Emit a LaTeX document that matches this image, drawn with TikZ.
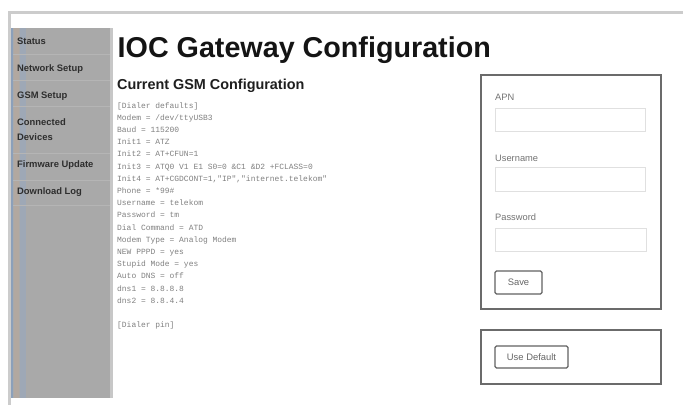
\documentclass[tikz,border=0pt]{standalone}
\usepackage{fontspec}
\setmainfont{Liberation Sans}
\setmonofont{Liberation Mono}
\definecolor{sidegray}{RGB}{169,169,169}
\definecolor{stripa}{RGB}{140,160,186}
\definecolor{stripb}{RGB}{178,168,160}
\definecolor{stripc}{RGB}{158,168,182}
\begin{document}
\begin{tikzpicture}[x=1pt,y=-1pt,
  navitem/.style={anchor=base west,inner sep=0pt,font=\bfseries\fontsize{9.4}{15}\selectfont,text=black!82},
  sepline/.style={draw=black!29,line width=0.6pt},
  monoline/.style={anchor=base west,inner sep=0pt,font=\ttfamily\fontsize{7.95}{12}\selectfont,text=black!50},
  formlabel/.style={anchor=base west,inner sep=0pt,font=\fontsize{9.3}{11}\selectfont,text=black!55},
  inputbox/.style={draw=black!12,line width=0.8pt,fill=white},
  panel/.style={draw=black!58,line width=1.2pt},
  btn/.style={draw=black!62,line width=1.2pt,rounded corners=1.5pt,fill=white,font=\fontsize{9.4}{11}\selectfont,text=black!60,inner sep=0pt}
]
\useasboundingbox (0,0) rectangle (683,405);
\fill[white] (0,0) rectangle (683,405);
% outer frame
\fill[black!20] (8,11) rectangle (683,13.5);
\fill[black!20] (8,11) rectangle (10.5,405);
% sidebar
\fill[sidegray] (10.5,28) rectangle (110,398);
\fill[black!22] (110,28) rectangle (113,398);
\fill[stripa] (10.5,28) rectangle (13,398);
\fill[stripb] (14,28) rectangle (19,398);
\fill[stripc] (20,28) rectangle (26,398);
\foreach \yy in {54,80,106.5,153,180,205}
  \draw[sepline] (13,\yy) -- (110,\yy);
\node[navitem] (nstatus) at (17,44) {Status};
\node[navitem] (nnet) at (17,71) {Network Setup};
\node[navitem] (ngsm) at (17,98) {GSM Setup};
\node[navitem] (ncon) at (17,125) {Connected};
\node[navitem] (ndev) at (17,140) {Devices};
\node[navitem] (nfw) at (17,167) {Firmware Update};
\node[navitem] (ndl) at (17,194) {Download Log};
% headings
\node[anchor=base west,inner sep=0pt,font=\bfseries\fontsize{28.7}{30}\selectfont,text=black!92] (title) at (117.5,57) {IOC Gateway Configuration};
\node[anchor=base west,inner sep=0pt,font=\bfseries\fontsize{14.4}{16}\selectfont,text=black!88] (sub) at (117,89) {Current GSM Configuration};
% config text
\node[monoline] (m1) at (117,108) {[Dialer defaults]};
\node[monoline] (m2) at (117,120.2) {Modem = /dev/ttyUSB3};
\node[monoline] (m3) at (117,132.4) {Baud = 115200};
\node[monoline] (m4) at (117,144.6) {Init1 = ATZ};
\node[monoline] (m5) at (117,156.8) {Init2 = AT+CFUN=1};
\node[monoline] (m6) at (117,169.0) {Init3 = ATQ0 V1 E1 S0=0 \&C1 \&D2 +FCLASS=0};
\node[monoline] (m7) at (117,181.2) {Init4 = AT+CGDCONT=1,"IP","internet.telekom"};
\node[monoline] (m8) at (117,193.4) {Phone = *99\#};
\node[monoline] (m9) at (117,205.6) {Username = telekom};
\node[monoline] (m10) at (117,217.8) {Password = tm};
\node[monoline] (m11) at (117,230.0) {Dial Command = ATD};
\node[monoline] (m12) at (117,242.2) {Modem Type = Analog Modem};
\node[monoline] (m13) at (117,254.4) {NEW PPPD = yes};
\node[monoline] (m14) at (117,266.6) {Stupid Mode = yes};
\node[monoline] (m15) at (117,278.8) {Auto DNS = off};
\node[monoline] (m16) at (117,291.0) {dns1 = 8.8.8.8};
\node[monoline] (m17) at (117,303.2) {dns2 = 8.8.4.4};
\node[monoline] (m18) at (117,327.6) {[Dialer pin]};
% form panel
\draw[panel] (481,75) rectangle (661,309);
\node[formlabel] (lapn) at (495,100) {APN};
\draw[inputbox] (495,108) rectangle (645,131);
\node[formlabel] (luser) at (495,161) {Username};
\draw[inputbox] (495,167) rectangle (645,191);
\node[formlabel] (lpass) at (495,220) {Password};
\draw[inputbox] (495,228) rectangle (646,251);
\node[btn,minimum width=47pt,minimum height=23pt] (save) at (518.5,282.5) {Save};
% default panel
\draw[panel] (481,330) rectangle (661,384);
\node[btn,minimum width=73pt,minimum height=22pt] (usedef) at (531.5,357) {Use Default};
\end{tikzpicture}
\end{document}
